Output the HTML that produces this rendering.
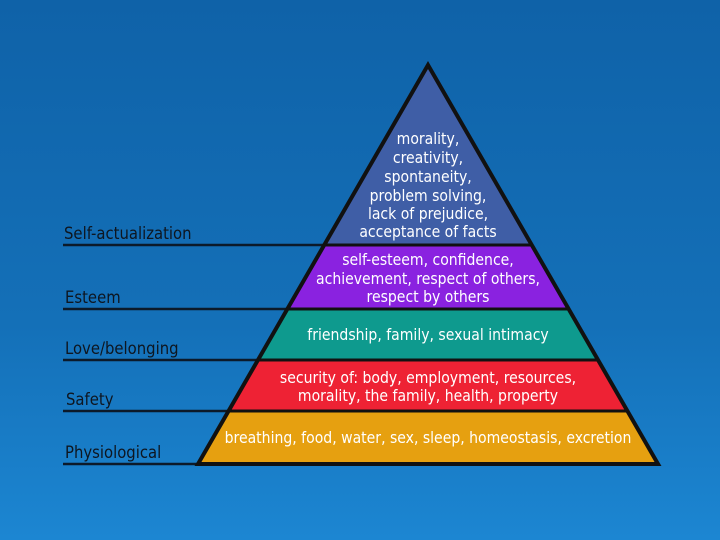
<!DOCTYPE html>
<html><head><style>
html,body{margin:0;padding:0}
body{width:720px;height:540px;overflow:hidden;background:linear-gradient(180deg,#0f62a8 0%,#1470b8 60%,#1c86d2 100%);font-family:"DejaVu Sans Condensed","Liberation Sans",sans-serif}
</style></head><body>
<svg width="720" height="540" xmlns="http://www.w3.org/2000/svg" style="position:absolute;left:0;top:0">
<defs><clipPath id="p"><polygon points="428,65 198,464 658,464"/></clipPath></defs>
<g stroke="#0c1a2a" stroke-width="2.5">
<line x1="63" y1="245" x2="330" y2="245"/>
<line x1="63" y1="309" x2="300" y2="309"/>
<line x1="63" y1="360" x2="270" y2="360"/>
<line x1="63" y1="411" x2="240" y2="411"/>
<line x1="63" y1="464" x2="200" y2="464"/>
</g>
<g clip-path="url(#p)">
<rect x="190" y="60" width="480" height="185" fill="#3f5ea6"/>
<rect x="190" y="245" width="480" height="64" fill="#8a22e0"/>
<rect x="190" y="309" width="480" height="51" fill="#0e9a8e"/>
<rect x="190" y="360" width="480" height="51" fill="#ee2234"/>
<rect x="190" y="411" width="480" height="55" fill="#e6a010"/>
<g stroke="#111" stroke-width="3">
<line x1="190" y1="245" x2="670" y2="245"/>
<line x1="190" y1="309" x2="670" y2="309"/>
<line x1="190" y1="360" x2="670" y2="360"/>
<line x1="190" y1="411" x2="670" y2="411"/>
</g>
</g>
<polygon points="428,65 198,464 658,464" fill="none" stroke="#111" stroke-width="4" stroke-linejoin="miter"/>
<g fill="#fff" font-size="15.6" text-anchor="middle">
<text x="428" y="144">morality,</text>
<text x="428" y="163">creativity,</text>
<text x="428" y="182">spontaneity,</text>
<text x="428" y="201">problem solving,</text>
<text x="428" y="219">lack of prejudice,</text>
<text x="428" y="237">acceptance of facts</text>
<text x="428" y="265">self-esteem, confidence,</text>
<text x="428" y="284">achievement, respect of others,</text>
<text x="428" y="302">respect by others</text>
<text x="428" y="340">friendship, family, sexual intimacy</text>
<text x="428" y="383">security of: body, employment, resources,</text>
<text x="428" y="401">morality, the family, health, property</text>
<text x="428" y="443">breathing, food, water, sex, sleep, homeostasis, excretion</text>
</g>
<g fill="#0e1620" font-size="16.5">
<text x="64" y="239">Self-actualization</text>
<text x="65" y="303">Esteem</text>
<text x="65" y="354">Love/belonging</text>
<text x="66" y="405">Safety</text>
<text x="65" y="458">Physiological</text>
</g>
</svg>
</body></html>
